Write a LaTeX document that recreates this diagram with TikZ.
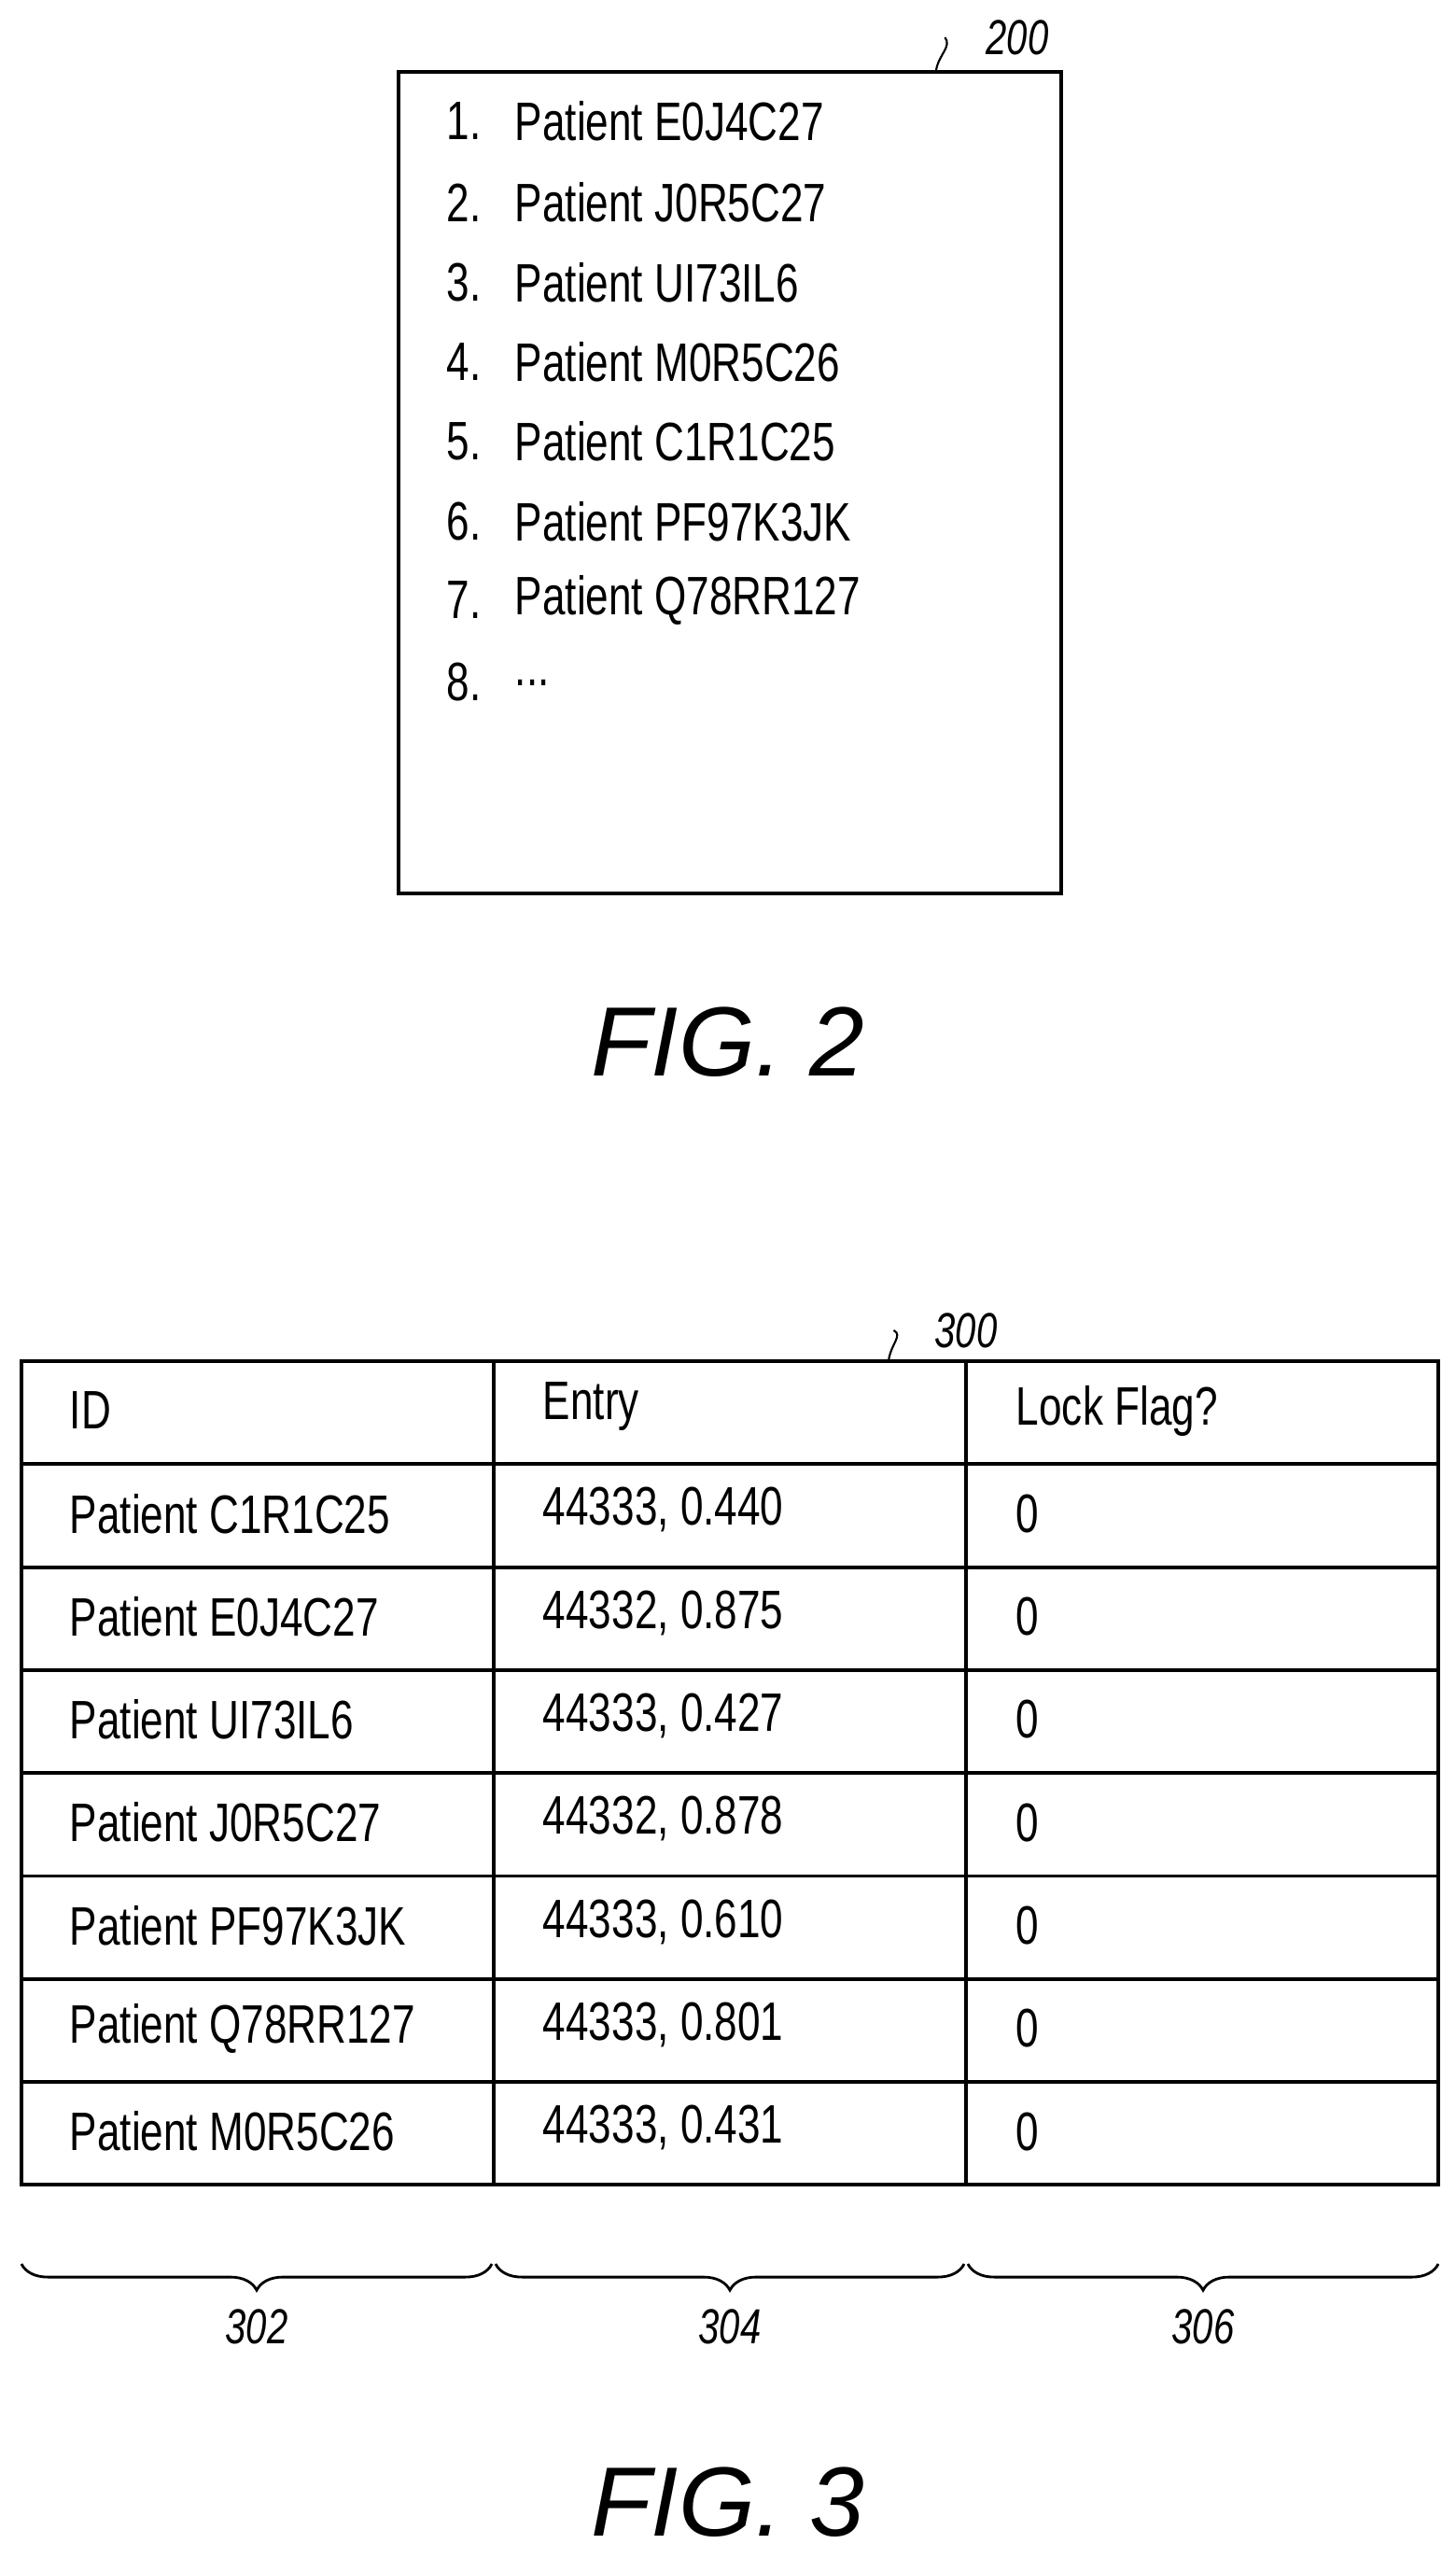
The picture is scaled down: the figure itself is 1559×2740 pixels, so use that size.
\documentclass[tikz,border=0pt]{standalone}
\usepackage{fontspec}
\setmainfont{Liberation Sans}
\newfontfamily\nar[FakeStretch=0.76]{Liberation Sans}
\usetikzlibrary{decorations.pathreplacing}
\begin{document}
\begin{tikzpicture}[x=0.01cm,y=-0.01cm,line width=1.1pt,
  txt/.style={anchor=west,font=\nar\fontsize{16.5}{18}\selectfont,inner sep=0},
  lbl/.style={font=\nar\itshape\fontsize{15}{17}\selectfont,inner sep=0},
  fig/.style={font=\itshape\fontsize{30}{36}\selectfont,inner sep=0}]
\useasboundingbox (0,0) rectangle (1559,2740);
% FIG 2
\node[draw,minimum width=710*0.01cm,minimum height=880*0.01cm,anchor=north west,inner sep=0] (box) at (425,75) {};
\foreach \n/\t/\y in {1/E0J4C27/130,2/J0R5C27/217,3/UI73IL6/303,4/M0R5C26/388,5/C1R1C25/473,6/PF97K3JK/559,7/Q78RR127/643} {
  \node[txt] (n\n) at (477,\y) {\n.};
  \node[txt] (p\n) at (550,\y) {Patient \t};
}
\node[txt] (n8) at (477,731) {8.};
\node[txt] (p8) at (550,731) {{.}{.}{.}};
\node[lbl] (l200) at (1090,40) {200};
\coordinate (c200) at (1003,75);
\draw[line width=0.6pt] (c200) .. controls (1006,58) and (1020,50) .. ([xshift=-12pt]l200.west);
\node[fig] (f2) at (780,1116) {FIG.\ 2};
% FIG 3 table
\foreach \c/\x in {0/23,1/529,2/1035} {
  \foreach \r in {0,...,7} {
    \draw (\x,1458+\r*110.3) rectangle ++(506,110.3);
  }
}
\foreach \r/\a/\b/\cc in {0/ID/Entry/Lock Flag?,1/Patient C1R1C25/{44333, 0.440}/0,2/Patient E0J4C27/{44332, 0.875}/0,3/Patient UI73IL6/{44333, 0.427}/0,4/Patient J0R5C27/{44332, 0.878}/0,5/Patient PF97K3JK/{44333, 0.610}/0,6/Patient Q78RR127/{44333, 0.801}/0,7/Patient M0R5C26/{44333, 0.431}/0} {
  \node[txt] (a\r) at (73,1511+\r*110.3) {\a};
  \node[txt] (b\r) at (580,1507+\r*110.3) {\b};
  \node[txt] (d\r) at (1087,1511+\r*110.3) {\cc};
}
\node[lbl] (l300) at (1035,1425) {300};
\coordinate (c300) at (952,1458);
\draw[line width=0.6pt] (c300) .. controls (954,1440) and (968,1430) .. ([xshift=-12pt]l300.west);
% braces
\foreach \i/\xa/\xb/\t in {2/23/527/302,4/531/1033/304,6/1037/1541/306} {
  \draw[line width=0.8pt,decorate,decoration={brace,mirror,amplitude=8pt}] (\xa,2425) -- (\xb,2425);
  \node[lbl] (l30\i) at ({(\xa+\xb)/2},2492) {\t};
}
\node[fig] (f3) at (780,2680) {FIG.\ 3};
\end{tikzpicture}
\end{document}
